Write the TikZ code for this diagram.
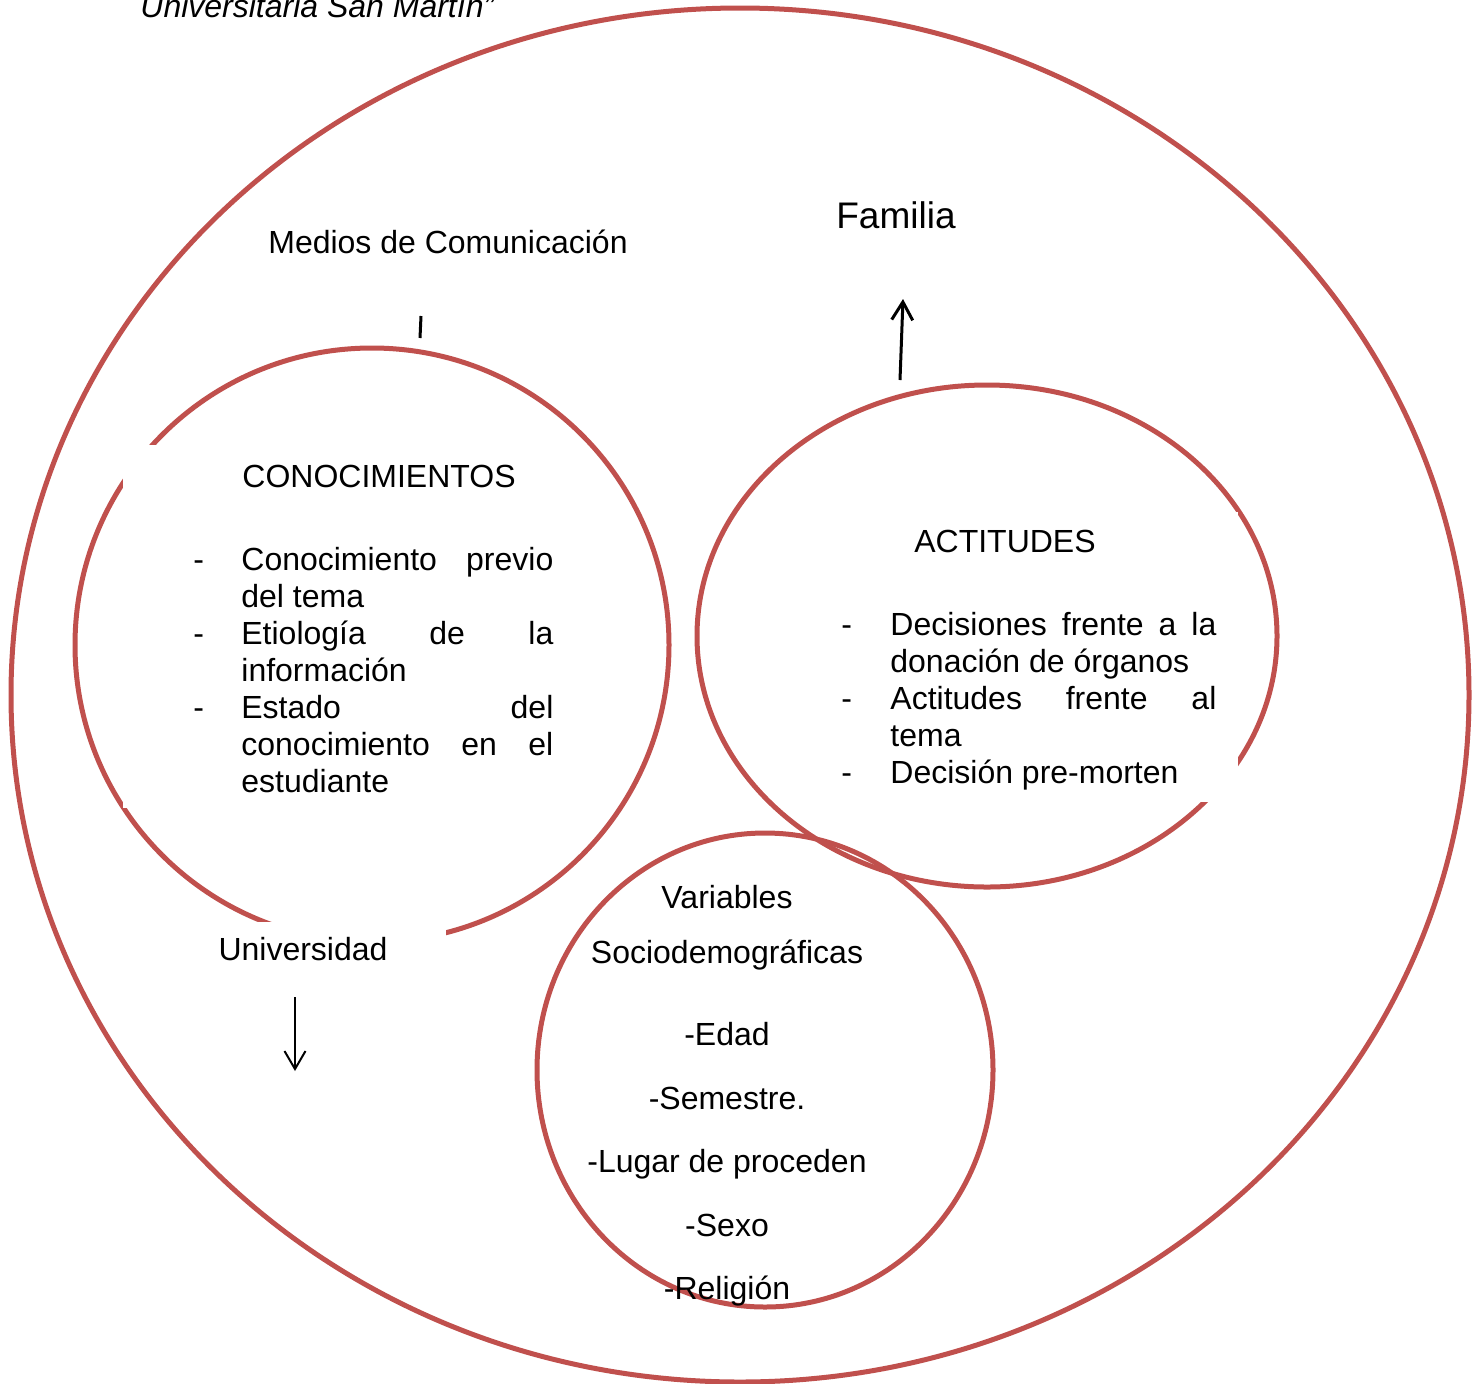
\documentclass[tikz,border=0pt]{standalone}
\usepackage{fontspec}
\setmainfont{Liberation Sans}
\usetikzlibrary{arrows.meta,positioning}
\definecolor{ringred}{RGB}{192,80,77}
\tikzset{
  ring/.style  = {draw=ringred, line width=2.5pt},
  blank/.style = {fill=white, inner sep=0pt, anchor=north west},
  txt/.style   = {font=\fontsize{16}{18.5}\selectfont, inner sep=0pt, anchor=base},
  item/.style  = {txt, anchor=base west},
  ptr/.style   = {-{Straight Barb[length=9pt,width=10.5pt]}}
}

\begin{document}
\begin{tikzpicture}[x=0.5pt,y=-0.5pt]
\clip (0,0) rectangle (1472,1383);

% --- rings ---
\draw[ring] (740,695) ellipse [x radius=729, y radius=687];
\draw[ring] (372,645) circle [radius=297];
\draw[ring] (987,636) ellipse [x radius=290, y radius=251];
\draw[ring] (765,1070) ellipse [x radius=228, y radius=237];

% --- white text boxes lying over the rings ---
\node[blank, minimum width=226pt, minimum height=181.5pt] (kbox) at (123,445) {};
\node[blank, minimum width=219pt, minimum height=145pt] (abox) at (800,512) {};
\node[blank, minimum width=123pt, minimum height=81.5pt] (ubox) at (200,922) {};

% --- heading cut at the top ---
\node[item, font=\fontsize{16}{18.5}\selectfont\itshape] (title) at (140,17) {Universitaria San Martín”};

% --- outer labels ---
\node[txt] (medios) at (448,253) {Medios de Comunicación};
\node[txt, font=\fontsize{18.5}{22}\selectfont] (familia) at (896,228) {Familia};
\node[txt] (univ) at (303,960) {Universidad};

% --- conocimientos ---
\node[txt] (conoc) at (379,487) {CONOCIMIENTOS};
\foreach \t [count=\i] in {{\makebox[156pt][s]{Conocimiento previo}}, del tema,
    {\makebox[156pt][s]{Etiología de la}}, información, {\makebox[156pt][s]{Estado del}},
    {\makebox[156pt][s]{conocimiento en el}}, estudiante}{
  \node[item] (k\i) at (241,533+\i*37) {\t};
}
\foreach \i in {1,3,5}{
  \node[item] (kd\i) at (193,533+\i*37) {-};
}

% --- actitudes ---
\node[txt] (actit) at (1005,552) {ACTITUDES};
\foreach \t [count=\i] in {{\makebox[163pt][s]{Decisiones frente a la}}, donación de órganos,
    {\makebox[163pt][s]{Actitudes frente al}}, tema, Decisión pre-morten}{
  \node[item] (a\i) at (890,598+\i*37) {\t};
}
\foreach \i in {1,3,5}{
  \node[item] (ad\i) at (841,598+\i*37) {-};
}

% --- variables sociodemograficas ---
\foreach \y/\t [count=\i] in {908/Variables, 963/Sociodemográficas, 1045/-Edad,
    1109/-Semestre., 1172/-Lugar de proceden, 1236/-Sexo, 1299/-Religión}{
  \node[txt] (s\i) at (727,\y) {\t};
}

% --- arrows ---
\coordinate (med0) at (421,316);
\coordinate (med1) at (420,338);
\draw[line width=1.5pt] (med0) -- (med1);
\coordinate (fam0) at (900,380);
\coordinate (fam1) at (903,299);
\draw[ptr, line width=1.5pt] (fam0) -- (fam1);
\coordinate (uni0) at (295,997);
\coordinate (uni1) at (295,1071);
\draw[ptr, line width=1pt] (uni0) -- (uni1);

\end{tikzpicture}
\end{document}
